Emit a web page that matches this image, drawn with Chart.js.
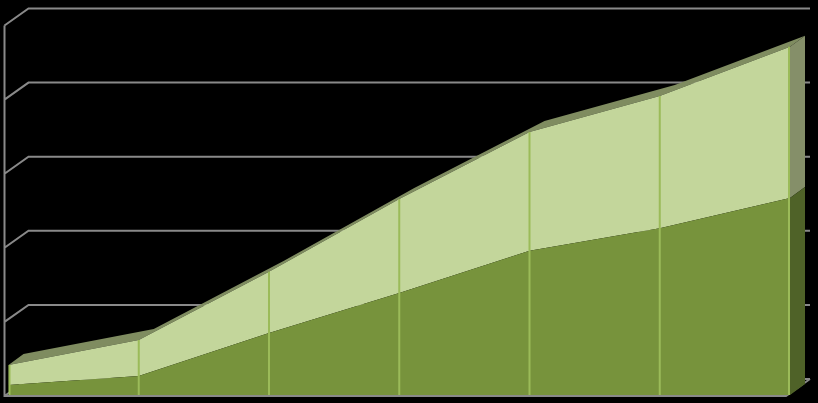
<!DOCTYPE html>
<html>
<head>
<meta charset="utf-8">
<script src="https://cdn.jsdelivr.net/npm/chart.js@4/dist/chart.umd.min.js"></script>
<style>
    html, body { margin: 0; padding: 0; background: #000; }
    #wrap { width: 818px; height: 403px; }
</style>
</head>
<body>
<div id="wrap"><canvas id="chart" width="818" height="403"></canvas></div>
<script>
// categories (no labels shown in the picture)
const categories = ['1', '2', '3', '4', '5', '6', '7'];
// lower (dark) series and upper (light) series, stacked
const darkValues = [6.7, 12.8, 41.8, 68.8, 97.4, 112.5, 132.9];
const lightValues = [13.5, 24.3, 41.4, 63.5, 80.1, 89.3, 102.1];
const yTicks = [0, 50, 100, 150, 200, 250];

const DEPTH = { dx: 15, dy: -11 };       // depth of the area slab
const WALL_FRONT = { dx: -4, dy: 1 };     // floor / side wall front edge
const WALL_BACK = { dx: 20, dy: -16 };    // back wall

const threeD = {
    id: 'threeD',
    beforeDatasetsDraw(chart) {
        const ctx = chart.ctx;
        const area = chart.chartArea;
        const y = chart.scales.y;

        // walls and gridlines
        ctx.save();
        ctx.strokeStyle = '#898989';
        ctx.lineWidth = 2;
        ctx.beginPath();
        yTicks.forEach(v => {
            const py = y.getPixelForValue(v);
            ctx.moveTo(area.left + WALL_FRONT.dx, py + WALL_FRONT.dy);
            ctx.lineTo(area.left + WALL_BACK.dx, py + WALL_BACK.dy);
            ctx.lineTo(area.right + WALL_BACK.dx, py + WALL_BACK.dy);
        });
        const yTop = y.getPixelForValue(yTicks[yTicks.length - 1]);
        const y0 = y.getPixelForValue(0);
        ctx.moveTo(area.left + WALL_FRONT.dx, yTop + WALL_FRONT.dy);
        ctx.lineTo(area.left + WALL_FRONT.dx, y0 + WALL_FRONT.dy);
        ctx.lineTo(area.right + WALL_FRONT.dx, y0 + WALL_FRONT.dy);
        ctx.lineTo(area.right + WALL_BACK.dx, y0 + WALL_BACK.dy);
        ctx.stroke();
        ctx.restore();

        // roof of the upper series
        const top = chart.getDatasetMeta(1).data;
        const low = chart.getDatasetMeta(0).data;
        ctx.save();
        ctx.fillStyle = '#7f8c60';
        ctx.beginPath();
        top.forEach((p, i) => i ? ctx.lineTo(p.x, p.y) : ctx.moveTo(p.x, p.y));
        for (let i = top.length - 1; i >= 0; i--) {
            ctx.lineTo(top[i].x + DEPTH.dx, top[i].y + DEPTH.dy);
        }
        ctx.closePath();
        ctx.fill();

        // right side faces
        const last = top.length - 1;
        const xr = top[last].x;
        const faces = [
            { a: top[last].y, b: low[last].y, color: '#858f69' },
            { a: low[last].y, b: y0, color: '#4f6228' }
        ];
        faces.forEach(f => {
            ctx.fillStyle = f.color;
            ctx.beginPath();
            ctx.moveTo(xr, f.a);
            ctx.lineTo(xr, f.b);
            ctx.lineTo(xr + DEPTH.dx, f.b + DEPTH.dy);
            ctx.lineTo(xr + DEPTH.dx, f.a + DEPTH.dy);
            ctx.closePath();
            ctx.fill();
        });
        ctx.restore();
    },
    afterDatasetsDraw(chart) {
        const ctx = chart.ctx;
        const y0 = chart.scales.y.getPixelForValue(0);
        const top = chart.getDatasetMeta(1).data;
        ctx.save();
        ctx.strokeStyle = '#9bbb59';
        ctx.lineWidth = 2;
        ctx.beginPath();
        top.forEach((p, i) => {
            const x = i === 0 ? p.x + 1 : (i === top.length - 1 ? p.x - 1 : p.x);
            ctx.moveTo(x, p.y);
            ctx.lineTo(x, y0);
        });
        ctx.stroke();
        ctx.restore();
    }
};

new Chart(document.getElementById('chart'), {
    type: 'line',
    data: {
        labels: categories,
        datasets: [{
            data: darkValues,
            backgroundColor: '#77933c',
            borderWidth: 0,
            pointRadius: 0,
            fill: 'origin',
            tension: 0
        }, {
            data: lightValues,
            backgroundColor: '#c3d69b',
            borderWidth: 0,
            pointRadius: 0,
            fill: '-1',
            tension: 0
        }]
    },
    options: {
        responsive: false,
        animation: false,
        layout: {
            padding: { left: 8.5, right: 28, top: 24.5, bottom: 8 }
        },
        plugins: {
            legend: { display: false },
            tooltip: { enabled: false }
        },
        scales: {
            x: { display: false, offset: false },
            y: { display: false, stacked: true, min: 0, max: 250 }
        }
    },
    plugins: [threeD]
});
</script>
</body>
</html>
